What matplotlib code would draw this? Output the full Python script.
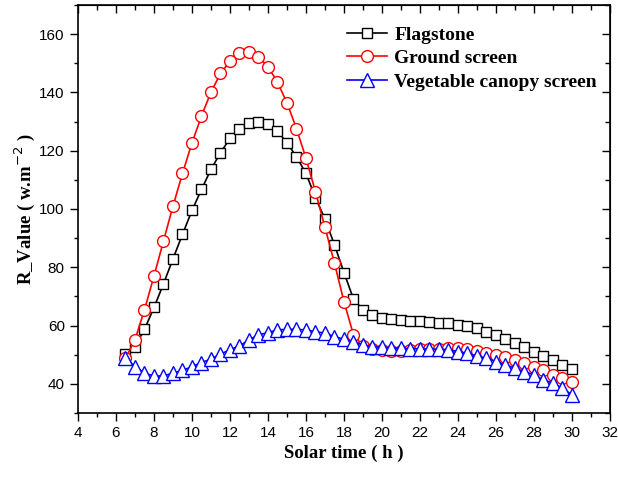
import numpy as np
import matplotlib.pyplot as plt
from matplotlib.ticker import MultipleLocator

# solar time, every half hour
hours = np.arange(6.5, 30.01, 0.5)

flagstone = [50.3, 52.8, 58.7, 66.2, 74.3, 82.9, 91.3, 99.5, 106.7, 113.6,
             119.3, 124.2, 127.4, 129.4, 129.9, 129.0, 126.7, 122.7, 117.9, 112.2,
             103.9, 96.5, 87.7, 78.2, 69.1, 65.4, 63.7, 62.6, 62.2, 62.0,
             61.7, 61.5, 61.2, 61.0, 60.8, 60.3, 59.8, 59.0, 57.9, 56.6,
             55.3, 54.0, 52.6, 50.9, 49.6, 48.2, 46.6, 45.0]
ground = [48.8, 55.1, 65.4, 77.0, 89.0, 101.0, 112.2, 122.7, 131.9, 140.1,
          146.5, 150.7, 153.4, 154.0, 152.2, 148.8, 143.5, 136.4, 127.6, 117.4,
          105.9, 93.7, 81.4, 68.2, 56.8, 53.0, 52.0, 51.5, 51.4, 51.4,
          51.5, 51.8, 52.0, 52.1, 52.2, 52.2, 51.9, 51.3, 50.7, 49.9,
          49.1, 48.2, 47.1, 45.9, 44.6, 43.1, 42.0, 40.6]
canopy = [49.0, 45.9, 43.7, 42.7, 42.7, 43.7, 44.6, 45.9, 47.3, 48.5,
          50.2, 51.7, 53.0, 55.1, 56.8, 57.6, 58.5, 58.7, 58.7, 58.5,
          57.9, 57.4, 56.2, 55.3, 54.5, 53.3, 52.8, 52.5, 52.3, 52.2,
          52.1, 52.0, 51.9, 51.9, 51.7, 51.1, 50.5, 49.6, 48.8, 47.6,
          46.5, 45.4, 44.2, 43.1, 41.4, 40.2, 38.5, 36.2]

fig = plt.figure(figsize=(6.18, 4.8), dpi=100)
ax = fig.add_axes([0.1262, 0.1396, 0.8608, 0.85])

ax.plot(hours, flagstone, color='black', lw=1.2, marker='s', ms=7.5,
        mfc='white', mec='black', mew=1.0, label='Flagstone')
ax.plot(hours, ground, color='red', lw=1.2, marker='o', ms=8.5,
        mfc='white', mec='red', mew=1.0, label='Ground screen')
ax.plot(hours, canopy, color='blue', lw=1.2, marker='^', ms=9.5,
        mfc='white', mec='blue', mew=1.0, label='Vegetable canopy screen')

ax.set_xlim(4, 32)
ax.set_ylim(30, 170)
ax.xaxis.set_major_locator(MultipleLocator(2))
ax.xaxis.set_minor_locator(MultipleLocator(1))
ax.yaxis.set_minor_locator(MultipleLocator(10))
ax.set_yticks(np.arange(40, 161, 20))

tickfont = 'Liberation Sans'
ax.tick_params(which='both', direction='out', width=1.0, labelsize=11, pad=4)
ax.tick_params(which='major', length=5.5)
ax.tick_params(which='minor', length=3)
for lab in ax.get_xticklabels() + ax.get_yticklabels():
    lab.set_fontfamily(tickfont)
for s in ax.spines.values():
    s.set_linewidth(1.2)

# top and right ticks pointing inward, no labels
top = ax.secondary_xaxis('top')
top.xaxis.set_major_locator(MultipleLocator(2))
top.xaxis.set_minor_locator(MultipleLocator(1))
top.tick_params(which='both', direction='in', labeltop=False, width=1.0)
top.tick_params(which='major', length=6)
top.tick_params(which='minor', length=3.5)
right = ax.secondary_yaxis('right')
right.set_yticks(np.arange(40, 161, 20))
right.yaxis.set_minor_locator(MultipleLocator(10))
right.tick_params(which='both', direction='in', labelright=False, width=1.0)
right.tick_params(which='major', length=6)
right.tick_params(which='minor', length=3.5)

serif = 'Liberation Serif'
ax.set_xlabel('Solar time ( h )', fontfamily=serif, fontweight='bold',
              fontsize=13.5, labelpad=3)
ax.set_ylabel('R_Value ( w.m$^{\\mathrm{-2}}$ )', fontfamily=serif,
              fontweight='bold', fontsize=13.5, labelpad=2)

leg = ax.legend(loc='upper left', bbox_to_anchor=(0.505, 0.948), frameon=False,
                prop={'family': serif, 'weight': 'bold', 'size': 14},
                borderpad=0, borderaxespad=0,
                handlelength=2.1, handletextpad=0.35, labelspacing=0.3)

fig.savefig('out.png', dpi=100)
